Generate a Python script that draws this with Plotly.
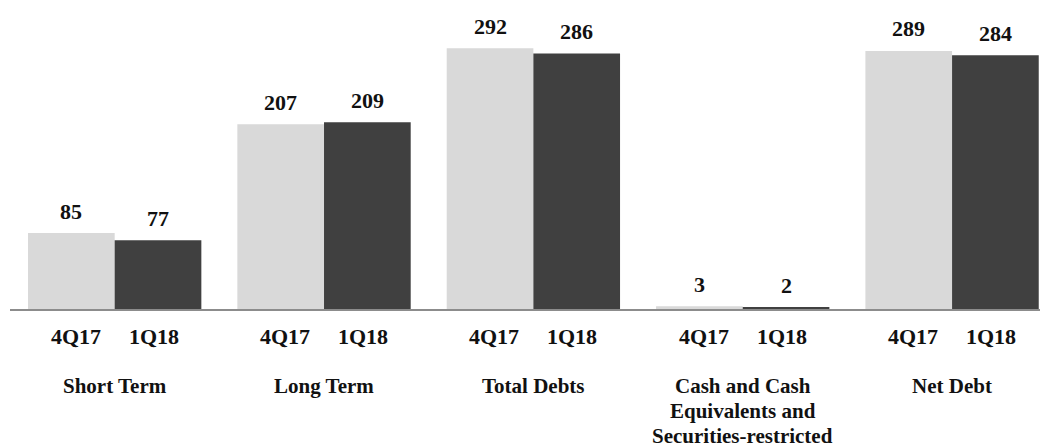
import plotly.graph_objects as go

# Debt breakdown by period
groups = ["Short Term", "Long Term", "Total Debts",
          "Cash and Cash<br>Equivalents and<br>Securities-restricted", "Net Debt"]
periods = ["4Q17", "1Q18"]
values_4q17 = [85, 207, 292, 3, 289]
values_1q18 = [77, 209, 286, 2, 284]

colors = ["#d9d9d9", "#404040"]
FONT = "Liberation Serif"
BARGAP = 0.172
LINE_STEP = 25  # px between category label lines

x = list(range(len(groups)))
series = [values_4q17, values_1q18]

fig = go.Figure()
for name, vals, col in zip(periods, series, colors):
    fig.add_trace(go.Bar(x=x, y=vals, name=name, marker=dict(color=col, line=dict(width=0)),
                         showlegend=False))

bar_w = (1 - BARGAP) / 2
offsets = [-bar_w / 2, bar_w / 2]
font = dict(family=FONT, size=22, color="#111111")
cat_font = dict(family=FONT, size=21, color="#111111")

annotations = []
for k, (name, vals) in enumerate(zip(periods, series)):
    for i, v in enumerate(vals):
        xc = i + offsets[k]
        # value label above bar
        annotations.append(dict(x=xc, y=v, xref="x", yref="y", text=f"<b>{v}</b>",
                                showarrow=False, yanchor="middle", yshift=22, font=font))
        # period label below axis, pulled slightly toward the group centre
        annotations.append(dict(x=i + offsets[k] * 0.9, y=0, xref="x", yref="y",
                                text=f"<b>{name}</b>", showarrow=False,
                                yanchor="middle", yshift=-27, font=font))

for i, g in enumerate(groups):
    for j, line in enumerate(g.split("<br>")):
        annotations.append(dict(x=i, y=0, xref="x", yref="y", text=f"<b>{line}</b>",
                                showarrow=False, yanchor="middle",
                                yshift=-77 - j * LINE_STEP, font=cat_font))

fig.update_layout(
    width=1041, height=448,
    margin=dict(l=10, r=1, t=0, b=139),
    paper_bgcolor="white", plot_bgcolor="white",
    barmode="group", bargap=BARGAP, bargroupgap=0,
    xaxis=dict(range=[-0.5, 4.42], showticklabels=False, showgrid=False, zeroline=False,
               showline=True, linecolor="#8c8c8c", linewidth=2, ticks=""),
    yaxis=dict(range=[0, 346], visible=False, showgrid=False, zeroline=False),
    annotations=annotations,
)

fig.write_html("out.html")
